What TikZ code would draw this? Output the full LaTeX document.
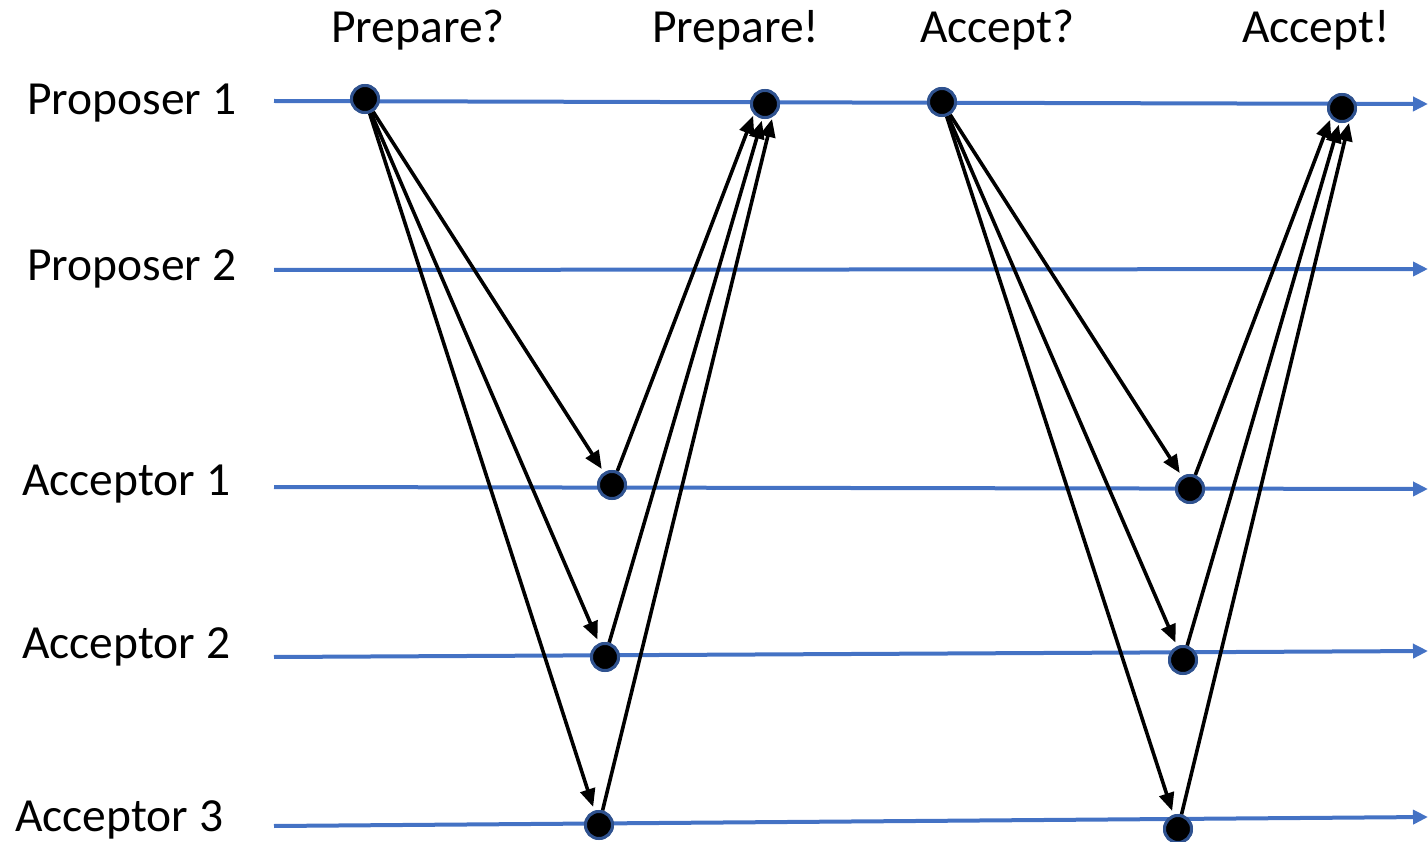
\documentclass[tikz,border=0pt]{standalone}
\usepackage{fontspec}
\setmainfont{Carlito}
\usetikzlibrary{arrows.meta}
\definecolor{lane}{RGB}{68,114,196}
\definecolor{rim}{RGB}{47,82,143}
\begin{document}
\begin{tikzpicture}[x=1pt,y=-1pt,
  lbl/.style={font=\fontsize{47.5}{56}\selectfont, inner sep=0pt, anchor=base west},
  lanearrow/.style={draw=lane, line width=4pt, -{Triangle[length=15pt,width=14pt]}},
  msg/.style={draw=black, line width=3.6pt, -{Triangle[length=18pt,width=15pt]}},
  msgout/.style={msg, shorten >=4pt},
  msgback/.style={msg, shorten >=2pt},
  dot/.style={circle, fill=black, draw=rim, line width=3pt, minimum size=27pt, inner sep=0pt}]
\useasboundingbox (0,0) rectangle (1428,842);

% process labels
\node[lbl] (lp1) at (27,115) {Proposer 1};
\node[lbl] (lp2) at (27,281) {Proposer 2};
\node[lbl] (la1) at (22,495) {Acceptor 1};
\node[lbl] (la2) at (22,658) {Acceptor 2};
\node[lbl] (la3) at (15,831) {Acceptor 3};

% phase labels
\node[lbl] (t1) at (331,43) {Prepare?};
\node[lbl] (t2) at (652,43) {Prepare!};
\node[lbl] (t3) at (920,43) {Accept?};
\node[lbl] (t4) at (1242,43) {Accept!};

% time lines
\coordinate (p1s) at (274,101);  \coordinate (p1e) at (1428,104);
\coordinate (p2s) at (274,270);  \coordinate (p2e) at (1428,269);
\coordinate (a1s) at (274,487);  \coordinate (a1e) at (1428,489);
\coordinate (a2s) at (274,657);  \coordinate (a2e) at (1428,651);
\coordinate (a3s) at (274,826);  \coordinate (a3e) at (1428,817);
\draw[lanearrow] (p1s) -- (p1e);
\draw[lanearrow] (p2s) -- (p2e);
\draw[lanearrow] (a1s) -- (a1e);
\draw[lanearrow] (a2s) -- (a2e);
\draw[lanearrow] (a3s) -- (a3e);

% events
\node[dot] (p1a) at (365,99) {};
\node[dot] (p1b) at (765,104) {};
\node[dot] (p1c) at (942,102) {};
\node[dot] (p1d) at (1342,108) {};
\node[dot] (a1a) at (612,485) {};
\node[dot] (a2a) at (605,657) {};
\node[dot] (a3a) at (599,825) {};
\node[dot] (a1b) at (1190,489) {};
\node[dot] (a2b) at (1183,660) {};
\node[dot] (a3b) at (1178,829) {};

% prepare requests and replies
\draw[msgout] (p1a) -- (a1a);
\draw[msgout] (p1a) -- (a2a);
\draw[msgout] (p1a) -- (a3a);
\draw[msgback] (a1a) -- (p1b.222);
\draw[msgback] (a2a) -- (p1b.260);
\draw[msgback] (a3a) -- (p1b.300);

% accept requests and replies
\draw[msgout] (p1c) -- (a1b);
\draw[msgout] (p1c) -- (a2b);
\draw[msgout] (p1c) -- (a3b);
\draw[msgback] (a1b) -- (p1d.222);
\draw[msgback] (a2b) -- (p1d.260);
\draw[msgback] (a3b) -- (p1d.300);

% redraw events above the messages
\foreach \n in {p1a,p1b,p1c,p1d,a1a,a2a,a3a,a1b,a2b,a3b}
  \node[dot] at (\n) {};
\end{tikzpicture}
\end{document}
